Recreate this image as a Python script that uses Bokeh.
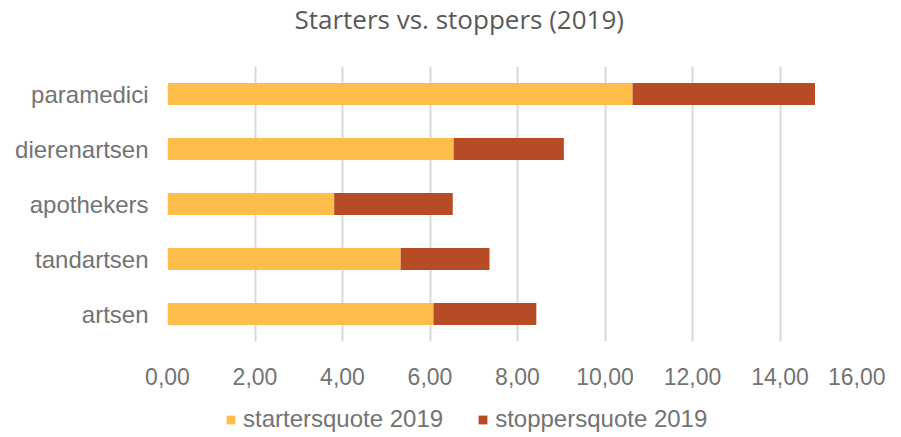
from bokeh.plotting import figure
from bokeh.models import FixedTicker, Legend, LegendItem, ColumnDataSource, Range1d, Label
from bokeh.layouts import column
from bokeh.embed import file_html
from bokeh.resources import INLINE

categories = ["artsen", "tandartsen", "apothekers", "dierenartsen", "paramedici"]
starters = [6.08, 5.33, 3.81, 6.54, 10.63]
stoppers = [2.35, 2.03, 2.71, 2.52, 4.17]
tick_values = [0, 2, 4, 6, 8, 10, 12, 14, 16]
tick_labels = ["0,00", "2,00", "4,00", "6,00", "8,00", "10,00", "12,00", "14,00", "16,00"]
series_names = ["startersquote 2019", "stoppersquote 2019"]
title_text = "Starters vs. stoppers (2019)"
colors = ["#FFBD4A", "#B74B26"]

totals = [a + b for a, b in zip(starters, stoppers)]
src = ColumnDataSource(dict(cat=categories, start=starters, stop=stoppers, total=totals,
                            zero=[0] * len(categories)))


def strip(h):
    f = figure(width=885, height=h, x_range=Range1d(0, 1), y_range=Range1d(0, 1),
               output_backend="svg", toolbar_location=None,
               x_axis_location=None, y_axis_location=None,
               min_border_left=0, min_border_right=0, min_border_top=0, min_border_bottom=0)
    f.grid.grid_line_color = None
    f.outline_line_color = None
    return f


# title strip
ts = strip(46)
ts.add_layout(Label(x=127, y=28, x_units="screen", y_units="screen", text=title_text,
                    text_font="Open Sans", text_font_size="26px", text_color="#595959",
                    text_align="left", text_baseline="middle"))

# main chart
p = figure(width=885, height=343, y_range=categories, x_range=Range1d(0, 16),
           output_backend="svg", toolbar_location=None, title=None,
           min_border_left=167, min_border_right=18, min_border_top=20, min_border_bottom=48)

p.hbar(y="cat", left="zero", right="start", height=0.4, source=src,
       fill_color=colors[0], line_color=None)
p.hbar(y="cat", left="start", right="total", height=0.4, source=src,
       fill_color=colors[1], line_color=None)

p.xaxis.ticker = FixedTicker(ticks=tick_values)
p.xaxis.major_label_overrides = {v: l for v, l in zip(tick_values, tick_labels)}
for ax in (p.xaxis, p.yaxis):
    ax.axis_line_color = None
    ax.major_tick_line_color = None
    ax.minor_tick_line_color = None
    ax.major_label_text_font = "Liberation Sans"
    ax.major_label_text_color = "#737373"
p.xaxis.major_label_text_font_size = "23px"
p.yaxis.major_label_text_font_size = "24px"
p.xaxis.major_label_standoff = 20
p.yaxis.major_label_standoff = 13

p.xgrid.grid_line_color = "#d9d9d9"
p.xgrid.grid_line_width = 2
p.ygrid.grid_line_color = None
p.outline_line_color = None
p.background_fill_color = "white"
p.border_fill_color = "white"

# legend strip (its renderers lie outside its view; only the legend shows)
lg = strip(44)
dummy = ColumnDataSource(dict(y=[-5], left=[-5], right=[-5]))
lr1 = lg.hbar(y="y", left="left", right="right", height=0.4, source=dummy,
              fill_color=colors[0], line_color=None)
lr2 = lg.hbar(y="y", left="left", right="right", height=0.4, source=dummy,
              fill_color=colors[1], line_color=None)
legend = Legend(items=[LegendItem(label=series_names[0], renderers=[lr1]),
                       LegendItem(label=series_names[1], renderers=[lr2])],
                orientation="horizontal", location=(58, 0),
                label_text_font="Liberation Sans", label_text_font_size="24px",
                label_text_color="#737373", glyph_width=11, glyph_height=11,
                label_height=20, spacing=34, border_line_color=None,
                background_fill_alpha=0, label_standoff=7, margin=0, padding=0)
lg.add_layout(legend, "center")

layout = column(ts, p, lg, spacing=0)
open("out.html", "w").write(file_html(layout, INLINE))
